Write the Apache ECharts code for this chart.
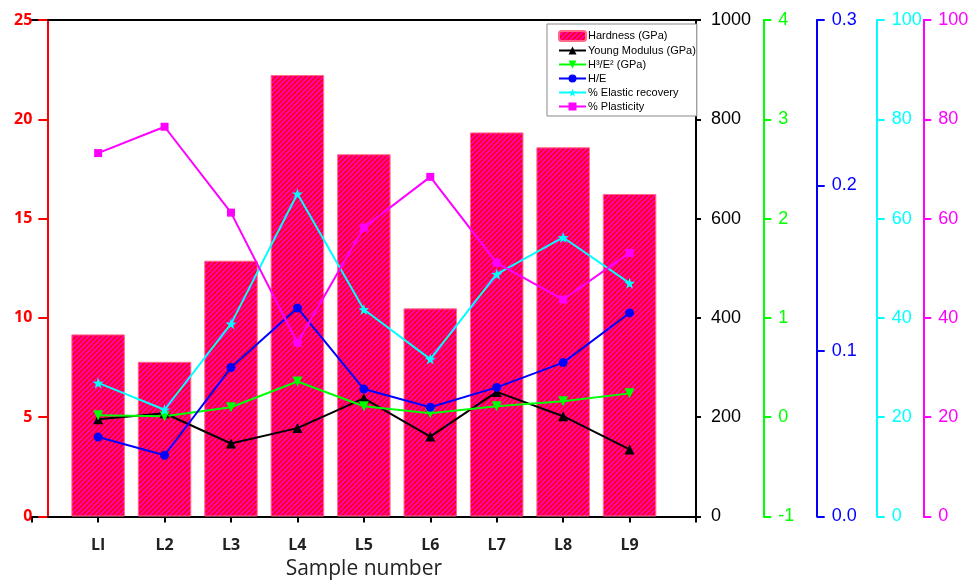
<!DOCTYPE html>
<html>
<head>
<meta charset="utf-8">
<script src="https://cdn.jsdelivr.net/npm/echarts@6/dist/echarts.min.js"></script>
<style>html,body{margin:0;padding:0;background:#fff;}#c{width:979px;height:582px;}</style>
</head>
<body>
<div id="c"></div>
<script>
const categories = ['LI', 'L2', 'L3', 'L4', 'L5', 'L6', 'L7', 'L8', 'L9'];
const hardness = [9.17, 7.79, 12.88, 22.23, 18.24, 10.48, 19.34, 18.59, 16.24];
const youngModulus = [196, 208, 147, 178, 238, 161, 251, 202, 135];
const h3e2 = [0.02, 0.01, 0.10, 0.36, 0.11, 0.04, 0.11, 0.16, 0.24];
const hOverE = [0.048, 0.037, 0.090, 0.126, 0.077, 0.066, 0.078, 0.093, 0.123];
const elasticRecovery = [26.9, 21.5, 38.8, 65.0, 41.7, 31.7, 48.8, 56.2, 47.0];
const plasticity = [73.2, 78.5, 61.2, 35.0, 58.2, 68.4, 51.1, 43.7, 53.1];
const hardnessTicks = [0, 5, 10, 15, 20, 25];

const P = 5;
const pc = document.createElement('canvas');
pc.width = P; pc.height = P;
const g = pc.getContext('2d');
g.fillStyle = '#ff0020'; g.fillRect(0, 0, P, P);
g.strokeStyle = '#ff00ff'; g.lineWidth = 1.2;
g.beginPath();
g.moveTo(-1, P + 1); g.lineTo(P + 1, -1);
g.moveTo(-2, 2); g.lineTo(2, -2);
g.moveTo(P - 2, P + 2); g.lineTo(P + 2, P - 2);
g.stroke();
const barPattern = { image: pc, repeat: 'repeat' };

const star = 'path://M0,-10 L2.35,-3.24 L9.51,-3.09 L3.8,1.24 L5.88,8.09 L0,4 L-5.88,8.09 L-3.8,1.24 L-9.51,-3.09 L-2.35,-3.24 Z';
const pts = arr => arr.map((v, i) => [i + 1, v]);

function rightAxis(color, offset, min, max, interval, fmt, tickLen) {
  return {
    type: 'value', position: 'right', offset: offset, min: min, max: max, interval: interval,
    axisLine: { show: true, onZero: false, lineStyle: { color: color, width: 2 } },
    axisTick: { show: true, inside: false, length: tickLen, lineStyle: { color: color, width: 2 } },
    axisLabel: { color: color, fontSize: 18, fontFamily: 'Liberation Sans', margin: 15, formatter: fmt || (v => String(v)) },
    splitLine: { show: false }
  };
}

const chart = echarts.init(document.getElementById('c'), null, { renderer: 'canvas' });
chart.setOption({
  animation: false,
  backgroundColor: '#fff',
  grid: { left: 31.7, right: 283, top: 20, bottom: 65.5, containLabel: false, outerBoundsMode: 'none' },
  legend: {
    orient: 'vertical', left: 547, top: 24,
    padding: [6, 1, 4, 11], itemWidth: 27, itemHeight: 10, itemGap: 3,
    borderColor: '#888', borderWidth: 1, backgroundColor: '#fff',
    textStyle: { fontSize: 11, lineHeight: 10, fontFamily: 'Liberation Sans', color: '#000', padding: [0, 0, 0, -3] },
    data: ['Hardness (GPa)', 'Young Modulus (GPa)', 'H³/E² (GPa)', 'H/E', '% Elastic recovery', '% Plasticity']
  },
  xAxis: [{
    type: 'value', position: 'bottom', min: 0, max: 10, interval: 1,
    name: 'Sample number', nameLocation: 'middle', nameGap: 42,
    nameTextStyle: { fontSize: 21, fontFamily: 'Open Sans', color: '#222' },
    axisLine: { show: true, onZero: false, lineStyle: { color: '#000', width: 2 } },
    axisTick: { show: true, length: 6, lineStyle: { color: '#000', width: 2 } },
    axisLabel: {
      margin: 21, fontSize: 16, fontWeight: 'bold', fontFamily: 'Open Sans', color: '#222',
      formatter: v => (v >= 1 && v <= 9) ? categories[v - 1] : ''
    },
    splitLine: { show: false }
  }, {
    type: 'value', position: 'top', min: 0, max: 10,
    axisLine: { show: true, onZero: false, lineStyle: { color: '#000', width: 2 } },
    axisTick: { show: false }, axisLabel: { show: false }, splitLine: { show: false }
  }],
  yAxis: [{
    type: 'value', position: 'left', offset: -15.6, min: hardnessTicks[0], max: hardnessTicks[hardnessTicks.length - 1], interval: 5,
    axisLine: { show: true, onZero: false, lineStyle: { color: '#ff0000', width: 2 } },
    axisTick: { show: true, length: 9, lineStyle: { color: '#ff0000', width: 2 } },
    axisLabel: { color: '#ff0000', fontSize: 16, fontWeight: 'bold', fontFamily: 'Open Sans', margin: 15 },
    splitLine: { show: false }
  },
  rightAxis('#000000', 0, 0, 1000, 200, null, 5),
  rightAxis('#00ff00', 67.3, -1, 4, 1, null, 8),
  rightAxis('#0000ff', 120.7, 0, 0.3, 0.1, v => v.toFixed(1), 8),
  rightAxis('#00ffff', 180.7, 0, 100, 20, null, 8),
  rightAxis('#ff00ff', 227.3, 0, 100, 20, null, 8)
  ],
  series: [{
    name: 'Hardness (GPa)', type: 'bar', xAxisIndex: 0, yAxisIndex: 0,
    data: pts(hardness), barWidth: 53.5,
    itemStyle: { color: barPattern, borderColor: '#ff6a8a', borderWidth: 1 }
  }, {
    name: 'Young Modulus (GPa)', type: 'line', yAxisIndex: 1, data: pts(youngModulus),
    symbol: 'triangle', symbolSize: 10, lineStyle: { color: '#000', width: 2 }, itemStyle: { color: '#000' }
  }, {
    name: 'H³/E² (GPa)', type: 'line', yAxisIndex: 2, data: pts(h3e2),
    symbol: 'triangle', symbolRotate: 180, symbolSize: 10, lineStyle: { color: '#00ff00', width: 2 }, itemStyle: { color: '#00ff00' }
  }, {
    name: 'H/E', type: 'line', yAxisIndex: 3, data: pts(hOverE),
    symbol: 'circle', symbolSize: 9, lineStyle: { color: '#0000ff', width: 2 }, itemStyle: { color: '#0000ff' }
  }, {
    name: '% Elastic recovery', type: 'line', yAxisIndex: 4, data: pts(elasticRecovery),
    symbol: star, symbolSize: 11, lineStyle: { color: '#00ffff', width: 2 }, itemStyle: { color: '#00ffff' }
  }, {
    name: '% Plasticity', type: 'line', yAxisIndex: 5, data: pts(plasticity),
    symbol: 'rect', symbolSize: 8, lineStyle: { color: '#ff00ff', width: 2 }, itemStyle: { color: '#ff00ff' }
  }]
});
</script>
</body>
</html>
